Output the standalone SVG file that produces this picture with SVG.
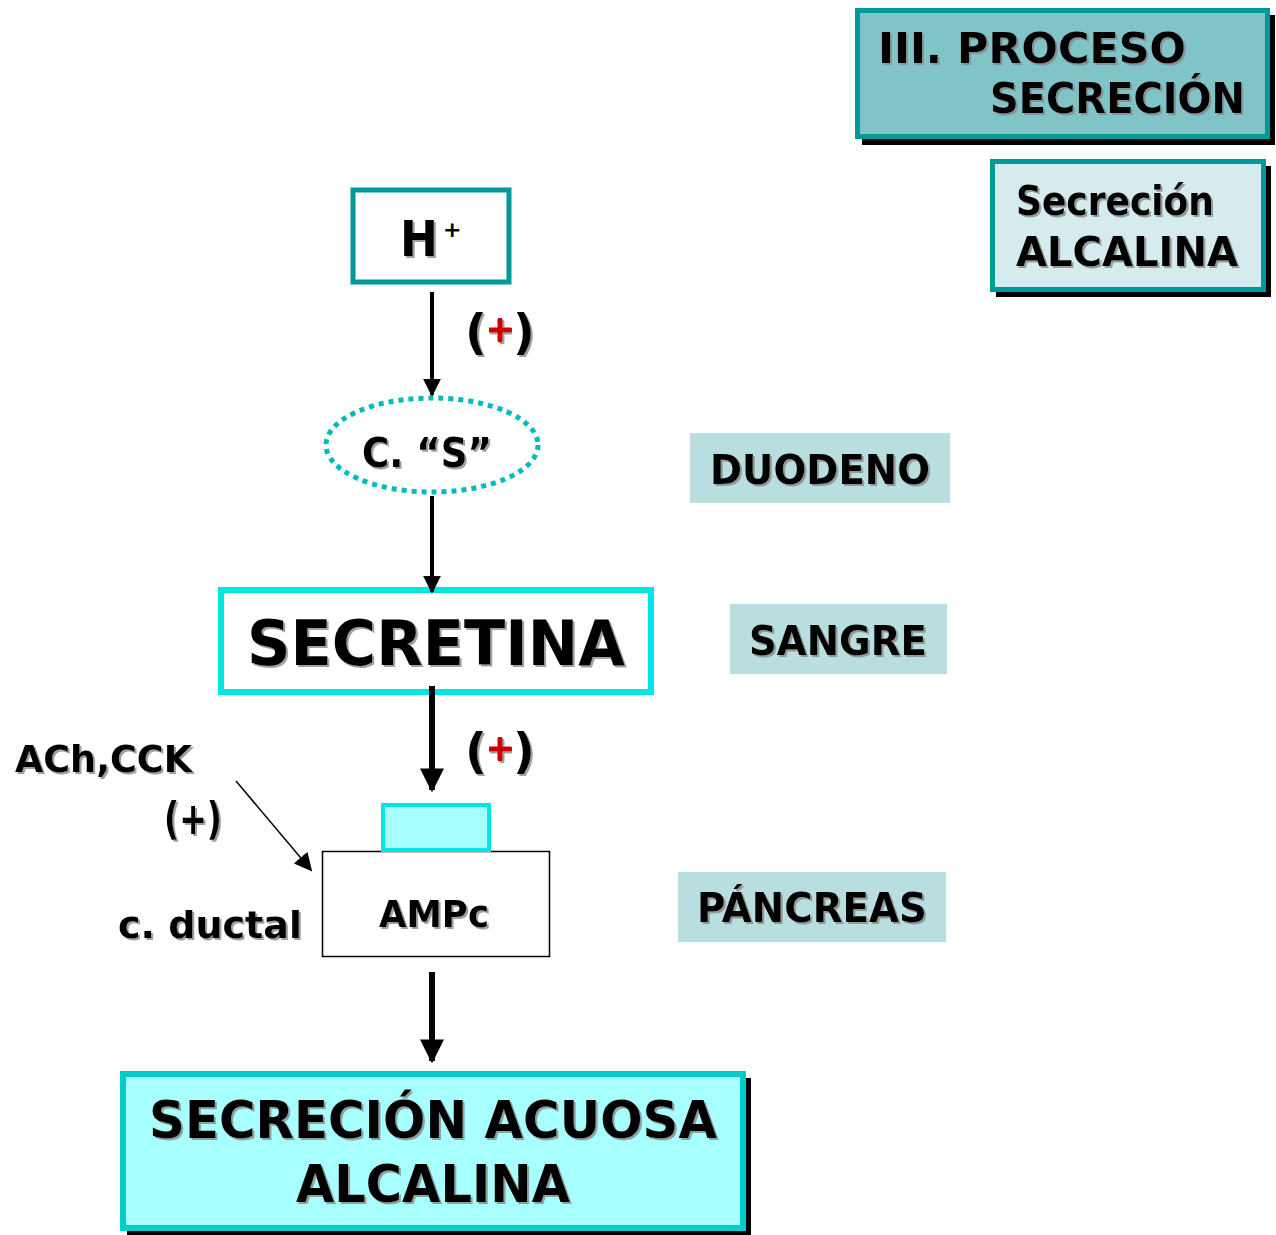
<svg xmlns="http://www.w3.org/2000/svg" width="1276" height="1235" viewBox="0 0 1276 1235">
  <defs>
    <filter id="tshadow" x="-5%" y="-10%" width="115%" height="130%">
      <feDropShadow dx="2" dy="2" stdDeviation="0.6" flood-color="#888" flood-opacity="0.8"/>
    </filter>
    <marker id="head" viewBox="0 0 10 10" refX="9" refY="5" markerWidth="4.5" markerHeight="4.5" orient="auto" markerUnits="strokeWidth">
      <path d="M0,0 L10,5 L0,10 z" fill="#000"/>
    </marker>
    <marker id="headThick" viewBox="0 0 10 10" refX="9" refY="5" markerWidth="4" markerHeight="4" orient="auto" markerUnits="strokeWidth">
      <path d="M0,0 L10,5 L0,10 z" fill="#000"/>
    </marker>
    <marker id="headThin" viewBox="0 0 10 10" refX="9" refY="5" markerWidth="12" markerHeight="12" orient="auto" markerUnits="strokeWidth">
      <path d="M0,0 L10,5 L0,10 z" fill="#000"/>
    </marker>
  </defs>
  <style>
    text { font-family: "DejaVu Sans", "Liberation Sans", sans-serif; font-weight: bold; fill: #000; }
    .sh { filter: url(#tshadow); }
    .shadowbox { fill: #000; }
    .tag { fill: #B8DEE0; }
    .paren { font-size: 48px; }
  </style>

  <rect width="1276" height="1235" fill="#fff"/>

  <!-- title -->
  <g id="title">
    <rect class="shadowbox" x="862" y="15" width="413" height="130"/>
    <rect x="857.5" y="10.5" width="410" height="126" fill="#80C4C8" stroke="#009999" stroke-width="5"/>
    <text class="sh" x="878" y="63" font-size="42" textLength="308" lengthAdjust="spacingAndGlyphs">III. PROCESO</text>
    <text class="sh" x="990" y="113" font-size="42" textLength="255" lengthAdjust="spacingAndGlyphs">SECRECIÓN</text>
  </g>

  <g id="subtitle">
    <rect class="shadowbox" x="996" y="166" width="275" height="131"/>
    <rect x="992.5" y="161.5" width="271" height="128" fill="#D5EBEE" stroke="#009999" stroke-width="5"/>
    <text class="sh" x="1016" y="215" font-size="40" textLength="198" lengthAdjust="spacingAndGlyphs">Secreción</text>
    <text class="sh" x="1016" y="266" font-size="40" textLength="222" lengthAdjust="spacingAndGlyphs">ALCALINA</text>
  </g>

  <!-- H+ -->
  <g id="node-h">
    <rect x="353" y="190" width="156" height="92" fill="#fff" stroke="#009999" stroke-width="5"/>
    <text class="sh" x="400" y="256" font-size="50" textLength="38" lengthAdjust="spacingAndGlyphs">H</text>
    <text x="443" y="237" font-size="22">+</text>
  </g>

  <!-- C. "S" -->
  <g id="node-cs">
    <ellipse cx="432" cy="445" rx="106" ry="47" fill="#fff" stroke="#00BBBB" stroke-width="5" stroke-dasharray="5 5"/>
    <text class="sh" x="427" y="467" font-size="40" text-anchor="middle" textLength="130" lengthAdjust="spacingAndGlyphs">C. “S”</text>
  </g>

  <!-- SECRETINA -->
  <g id="node-secretina">
    <rect x="221" y="590" width="430" height="102" fill="#fff" stroke="#00E5E5" stroke-width="6"/>
    <text class="sh" x="436" y="665" font-size="62" text-anchor="middle" textLength="378" lengthAdjust="spacingAndGlyphs">SECRETINA</text>
  </g>

  <!-- location tags -->
  <g id="tag-duodeno">
    <rect class="tag" x="690" y="433" width="260" height="70"/>
    <text class="sh" x="820" y="484" font-size="40" text-anchor="middle" textLength="220" lengthAdjust="spacingAndGlyphs">DUODENO</text>
  </g>
  <g id="tag-sangre">
    <rect class="tag" x="730" y="604" width="217" height="70"/>
    <text class="sh" x="838" y="655" font-size="40" text-anchor="middle" textLength="178" lengthAdjust="spacingAndGlyphs">SANGRE</text>
  </g>
  <g id="tag-pancreas">
    <rect class="tag" x="678" y="872" width="268" height="70"/>
    <text class="sh" x="812" y="922" font-size="40" text-anchor="middle" textLength="230" lengthAdjust="spacingAndGlyphs">PÁNCREAS</text>
  </g>

  <!-- receptor + cell -->
  <g id="node-ampc">
    <rect x="322.5" y="851.5" width="227" height="105" fill="#fff" stroke="#000" stroke-width="1.5"/>
    <rect x="383" y="805" width="106" height="45" fill="#A8FFFF" stroke="#00E5E5" stroke-width="4"/>
    <text class="sh" x="434" y="927" font-size="38" text-anchor="middle" textLength="110" lengthAdjust="spacingAndGlyphs">AMPc</text>
  </g>

  <!-- side labels -->
  <g id="label-achcck">
    <text class="sh" x="15" y="772" font-size="38" textLength="177" lengthAdjust="spacingAndGlyphs">ACh,CCK</text>
    <text class="sh" x="164" y="834" font-size="44" textLength="58" lengthAdjust="spacingAndGlyphs">(+)</text>
  </g>
  <g id="label-ductal">
    <text class="sh" x="118" y="938" font-size="38" textLength="184" lengthAdjust="spacingAndGlyphs">c. ductal</text>
  </g>

  <!-- result -->
  <g id="node-result">
    <rect class="shadowbox" x="127" y="1078" width="624" height="157"/>
    <rect x="123" y="1074" width="620" height="154" fill="#A8FFFF" stroke="#00CCCC" stroke-width="6"/>
    <text class="sh" x="433" y="1138" font-size="52" text-anchor="middle" textLength="568" lengthAdjust="spacingAndGlyphs">SECRECIÓN ACUOSA</text>
    <text class="sh" x="433" y="1202" font-size="52" text-anchor="middle" textLength="274" lengthAdjust="spacingAndGlyphs">ALCALINA</text>
  </g>

  <!-- connectors -->
  <g id="connectors" stroke="#000" fill="none">
    <line x1="432" y1="292" x2="432" y2="395" stroke-width="4" marker-end="url(#head)"/>
    <line x1="432" y1="496" x2="432" y2="592" stroke-width="4" marker-end="url(#head)"/>
    <line x1="432" y1="686" x2="432" y2="790" stroke-width="6" marker-end="url(#headThick)"/>
    <line x1="432" y1="972" x2="432" y2="1061" stroke-width="6" marker-end="url(#headThick)"/>
    <line x1="236" y1="781" x2="311" y2="870" stroke-width="1.5" marker-end="url(#headThin)"/>
  </g>

  <!-- activation signs -->
  <g id="sign-1">
    <text class="sh paren" x="465" y="349">(</text>
    <text class="sh paren" x="513" y="349">)</text>
    <path class="sh" d="M490,330 h20 M500,320 v20" stroke="#CC0000" stroke-width="5" stroke-linecap="round"/>
  </g>
  <g id="sign-2">
    <text class="sh paren" x="465" y="768">(</text>
    <text class="sh paren" x="513" y="768">)</text>
    <path class="sh" d="M490,749 h20 M500,739 v20" stroke="#CC0000" stroke-width="5" stroke-linecap="round"/>
  </g>
</svg>
